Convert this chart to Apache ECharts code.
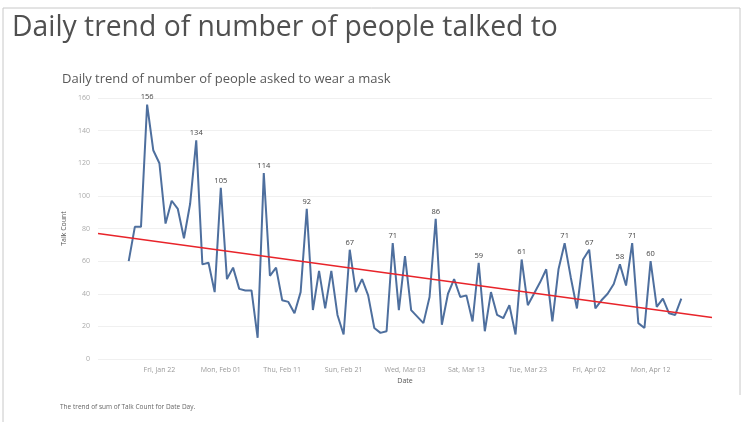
<!DOCTYPE html>
<html>
<head>
<meta charset="utf-8">
<script src="https://cdn.jsdelivr.net/npm/echarts@6/dist/echarts.min.js"></script>
<style>
html,body{margin:0;padding:0;background:#fff;}
#c{width:751px;height:422px;}
</style>
</head>
<body>
<div id="c"></div>
<script>
// ---- data ----
const pageTitle = 'Daily trend of number of people talked to';
const chartTitle = 'Daily trend of number of people asked to wear a mask';
const footnote = 'The trend of sum of Talk Count for Date Day.';
const firstDate = '2021-01-17';
const talkCount = [
  60, 81, 81, 156, 128, 120, 83, 97, 92, 74,
  95, 134, 58, 59, 41, 105, 49, 56, 43, 42,
  42, 13, 114, 51, 56, 36, 35, 28, 41, 92,
  30, 54, 31, 54, 27, 15, 67, 41, 49, 39,
  19, 16, 17, 71, 30, 63, 30, 26, 22, 38,
  86, 21, 40, 49, 38, 39, 23, 59, 17, 41,
  27, 25, 33, 15, 61, 33, 40, 47, 55, 23,
  55, 71, 50, 31, 61, 67, 31, 36, 40, 46,
  58, 45, 71, 22, 19, 60, 32, 37, 28, 27,
  37
];
const labeledDates = ['2021-01-20','2021-01-28','2021-02-01','2021-02-08','2021-02-15','2021-02-22',
  '2021-03-01','2021-03-08','2021-03-15','2021-03-22','2021-03-29','2021-04-02','2021-04-07',
  '2021-04-09','2021-04-12'];
const trendDates = ['2021-01-12','2021-04-22'];
const trendValues = [77, 25.5];
const axisOrigin = '2021-01-12';
const axisSpanDays = 100;
const yTicks = [0, 20, 40, 60, 80, 100, 120, 140, 160];

// ---- helpers ----
const DAY = 86400000;
const toMs = s => Date.parse(s + 'T00:00:00Z');
const originMs = toMs(axisOrigin);
const dayOf = s => Math.round((toMs(s) - originMs) / DAY);
const wd = ['Sun','Mon','Tue','Wed','Thu','Fri','Sat'];
const mo = ['Jan','Feb','Mar','Apr','May','Jun','Jul','Aug','Sep','Oct','Nov','Dec'];
function fmtDay(d) {
  const t = new Date(originMs + d * DAY);
  return wd[t.getUTCDay()] + ', ' + mo[t.getUTCMonth()] + ' ' + String(t.getUTCDate()).padStart(2, '0');
}
const startDay = dayOf(firstDate);
const labeledSet = new Set(labeledDates.map(dayOf));
const lineData = talkCount.map((v, i) => [startDay + i, v]);
const trendData = trendDates.map((s, i) => [dayOf(s), trendValues[i]]);

const chart = echarts.init(document.getElementById('c'));
chart.setOption({
  backgroundColor: '#fff',
  animation: false,
  title: [
    { text: pageTitle, left: 7, top: 9,
      textStyle: { fontFamily: 'Open Sans', fontSize: 28.3, fontWeight: 'normal', color: '#505050' } },
    { text: chartTitle, left: 57, top: 68,
      textStyle: { fontFamily: 'Open Sans', fontSize: 13, fontWeight: 'normal', color: '#595959' } },
    { text: footnote, left: 55, top: 399,
      textStyle: { fontFamily: 'Open Sans', fontSize: 6.5, fontWeight: 'normal', color: '#666' } }
  ],
  graphic: [
    { type: 'polyline', silent: true, shape: { points: [[3, 422], [3, 8], [740, 8], [740, 395]] },
      style: { stroke: '#c8c8c8', lineWidth: 1, fill: null } }
  ],
  grid: { left: 98, right: 39, top: 98, bottom: 63 },
  xAxis: {
    type: 'value', min: 0, max: axisSpanDays, interval: 10,
    name: 'Date', nameLocation: 'middle', nameGap: 17,
    nameTextStyle: { fontFamily: 'Open Sans', fontSize: 7, color: '#555' },
    axisLine: { show: false }, axisTick: { show: false },
    splitLine: { show: false },
    axisLabel: {
      fontFamily: 'Open Sans', fontSize: 7, color: '#999', margin: 7,
      formatter: v => (v <= 0 || v >= axisSpanDays) ? '' : fmtDay(v)
    }
  },
  yAxis: {
    type: 'value', min: yTicks[0], max: yTicks[yTicks.length - 1], interval: yTicks[1] - yTicks[0],
    name: 'Talk Count', nameLocation: 'middle', nameGap: 26, nameRotate: 90,
    nameTextStyle: { fontFamily: 'Open Sans', fontSize: 7, color: '#555' },
    axisLine: { show: false }, axisTick: { show: false },
    splitLine: { lineStyle: { color: '#f0f0f0', width: 1 } },
    axisLabel: { fontFamily: 'Open Sans', fontSize: 7, color: '#aaa', margin: 8 }
  },
  series: [
    {
      type: 'line', data: lineData, symbol: 'circle', symbolSize: 0.5,
      showSymbol: true, showAllSymbol: true, z: 2,
      itemStyle: { color: 'rgba(78,111,158,0)' },
      lineStyle: { color: '#4e6f9e', width: 2 },
      label: { show: true, position: 'top', distance: 3, fontFamily: 'Open Sans', fontSize: 7.5, color: '#444',
        formatter: p => labeledSet.has(p.value[0]) ? String(p.value[1]) : '' },
      labelLayout: { hideOverlap: false }
    },
    {
      type: 'line', data: trendData, symbol: 'none', z: 3,
      lineStyle: { color: '#e8242a', width: 1.5 }
    }
  ]
});
</script>
</body>
</html>
